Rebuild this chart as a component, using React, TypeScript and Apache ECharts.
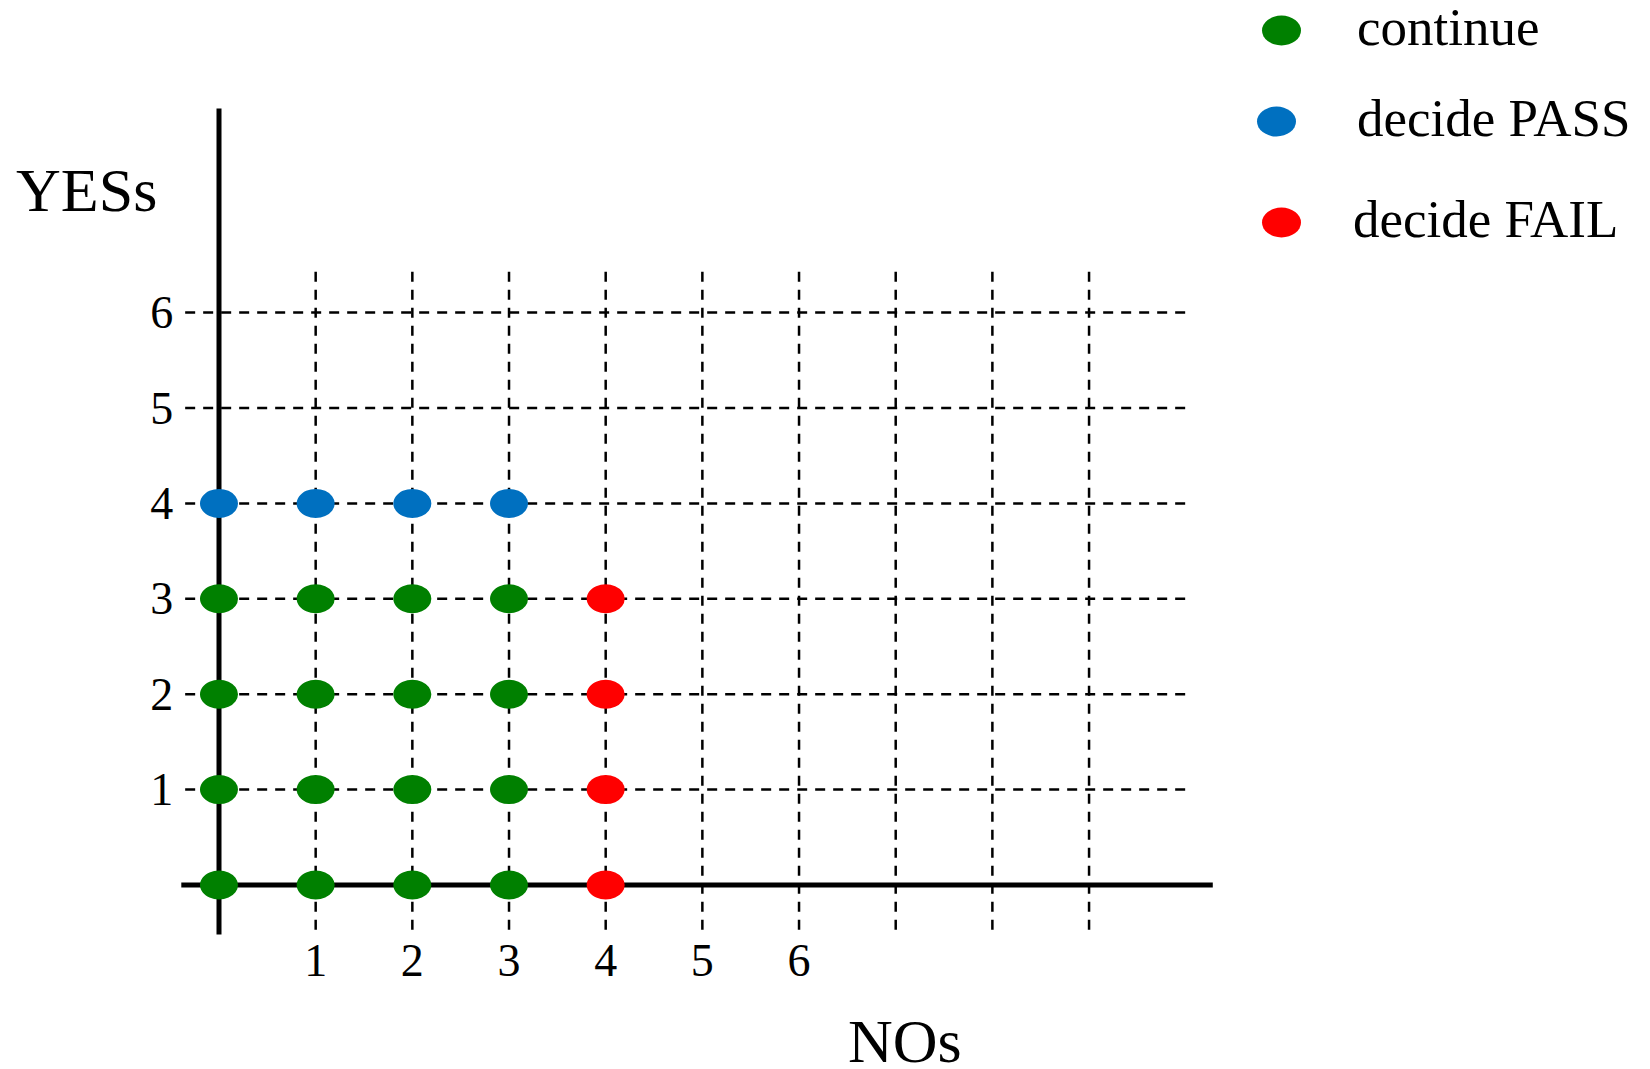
import React, { useEffect, useRef } from "react";
import * as echarts from "echarts";

const FONT = "'Liberation Serif', 'Times New Roman', 'DejaVu Serif', serif";

const X_TICKS = [1, 2, 3, 4, 5, 6];
const Y_TICKS = [1, 2, 3, 4, 5, 6];
const V_GRID = [1, 2, 3, 4, 5, 6, 7, 8, 9];
const H_GRID = [1, 2, 3, 4, 5, 6];

const CONTINUE_POINTS: [number, number][] = [
  [0, 0], [1, 0], [2, 0], [3, 0],
  [0, 1], [1, 1], [2, 1], [3, 1],
  [0, 2], [1, 2], [2, 2], [3, 2],
  [0, 3], [1, 3], [2, 3], [3, 3],
];
const PASS_POINTS: [number, number][] = [[0, 4], [1, 4], [2, 4], [3, 4]];
const FAIL_POINTS: [number, number][] = [[4, 0], [4, 1], [4, 2], [4, 3]];

const SERIES_NAMES = ["continue", "decide PASS", "decide FAIL"];
const COLORS = ["#008000", "#0070C0", "#FF0000"];

// extents of guide lines (data units)
const V_LINE_RANGE: [number, number] = [-0.47, 6.5];
const H_LINE_RANGE: [number, number] = [-0.35, 10.0];
const X_AXIS_RANGE: [number, number] = [-0.39, 10.28];
const Y_AXIS_RANGE: [number, number] = [-0.52, 8.14];

// ellipse icon, with an empty move-to above so the ellipse sits a little below the text centre
const ELLIPSE_ICON = "path://M19.5 -8M0 15A19.5 15 0 1 0 39 15A19.5 15 0 1 0 0 15Z";

export default function App() {
  const ref = useRef<HTMLDivElement>(null);
  useEffect(() => {
    if (!ref.current) return;
    const chart = echarts.init(ref.current, undefined, { renderer: "svg" });

    const dashed = { color: "#000", width: 2.5, type: [10, 8] as any };
    const lineSeries: any[] = [];
    V_GRID.forEach((x) => {
      lineSeries.push({
        type: "line", silent: true, symbol: "none", z: 2,
        lineStyle: dashed,
        data: [[x, V_LINE_RANGE[0]], [x, V_LINE_RANGE[1]]],
      });
    });
    H_GRID.forEach((y) => {
      lineSeries.push({
        type: "line", silent: true, symbol: "none", z: 2,
        lineStyle: dashed,
        data: [[H_LINE_RANGE[0], y], [H_LINE_RANGE[1], y]],
      });
    });
    lineSeries.push({
      type: "line", silent: true, symbol: "none", z: 3,
      lineStyle: { color: "#000", width: 5 },
      data: [[X_AXIS_RANGE[0], 0], [X_AXIS_RANGE[1], 0]],
    });
    lineSeries.push({
      type: "line", silent: true, symbol: "none", z: 3,
      lineStyle: { color: "#000", width: 5 },
      data: [[0, Y_AXIS_RANGE[0]], [0, Y_AXIS_RANGE[1]]],
    });

    const pointSets = [CONTINUE_POINTS, PASS_POINTS, FAIL_POINTS];
    const scatterSeries = pointSets.map((pts, i) => ({
      type: "scatter",
      name: SERIES_NAMES[i],
      data: pts,
      symbol: "circle",
      symbolSize: [38, 29],
      z: 10,
      itemStyle: { color: COLORS[i], opacity: 1 },
    }));

    const legendTops = [0, 91, 192];
    const legendLefts = [1262, 1257, 1262];
    const legendTextPad = [51, 56, 47];
    const legends = SERIES_NAMES.map((n, i) => ({
      data: [{ name: n, icon: ELLIPSE_ICON }],
      left: legendLefts[i],
      top: legendTops[i],
      padding: 0,
      orient: "vertical",
      itemWidth: 39,
      itemHeight: 38,
      selectedMode: false,
      textStyle: {
        fontFamily: FONT,
        fontSize: 53,
        color: "#000",
        padding: [0, 0, 18, legendTextPad[i]],
      },
    }));

    chart.setOption({
      animation: false,
      backgroundColor: "#fff",
      grid: {
        left: 122.33,
        right: 367.6,
        top: 26.4,
        bottom: 88.6,
        containLabel: false,
        outerBoundsMode: "none",
      },
      legend: legends,
      xAxis: {
        type: "value",
        min: -1,
        max: 11,
        interval: 1,
        axisLine: { show: false, onZero: false },
        axisTick: { show: false },
        splitLine: { show: false },
        axisLabel: {
          inside: true,
          margin: -3,
          fontFamily: FONT,
          fontSize: 46,
          color: "#000",
          formatter: (v: number) => (X_TICKS.indexOf(v) >= 0 ? String(v) : ""),
        },
      },
      yAxis: {
        type: "value",
        min: -1,
        max: 9,
        interval: 1,
        axisLine: { show: false, onZero: false },
        axisTick: { show: false },
        splitLine: { show: false },
        axisLabel: {
          inside: true,
          margin: 28,
          fontFamily: FONT,
          fontSize: 46,
          color: "#000",
          formatter: (v: number) => (Y_TICKS.indexOf(v) >= 0 ? String(v) : ""),
        },
      },
      graphic: [
        {
          type: "text",
          x: 16,
          y: 190,
          style: {
            text: "YESs", fontFamily: FONT, fontSize: 62, fill: "#000",
            align: "left", verticalAlign: "middle", lineHeight: 50,
          },
        },
        {
          type: "text",
          x: 848,
          y: 1041,
          style: {
            text: "NOs", fontFamily: FONT, fontSize: 62, fill: "#000",
            align: "left", verticalAlign: "middle", lineHeight: 46,
          },
        },
      ],
      series: [...lineSeries, ...scatterSeries],
    });
    return () => chart.dispose();
  }, []);
  return (
    <div
      ref={ref}
      style={{ position: "absolute", left: 0, top: 0, width: 1650, height: 1069, background: "#fff" }}
    />
  );
}
